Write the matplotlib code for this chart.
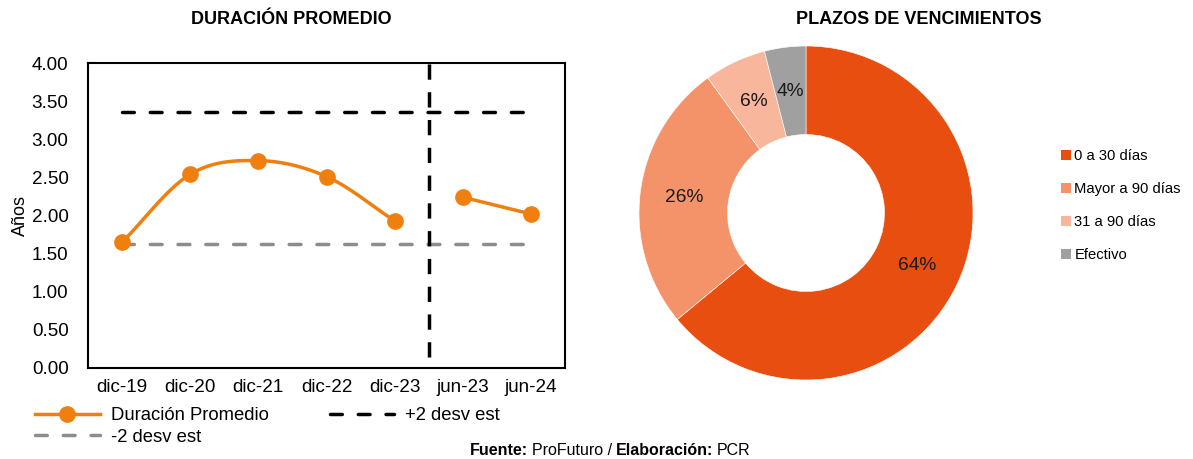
import numpy as np
import matplotlib
matplotlib.use("Agg")
import matplotlib.pyplot as plt
from matplotlib.lines import Line2D
from matplotlib.patches import Patch
from matplotlib.text import Annotation

plt.rcParams['font.family'] = ['Liberation Sans', 'DejaVu Sans']

# data
periods = ["dic-19", "dic-20", "dic-21", "dic-22", "dic-23", "jun-23", "jun-24"]
duracion = [1.65, 2.54, 2.72, 2.51, 1.93, 2.24, 2.02]
plus2_std = 3.36
minus2_std = 1.62

plazo_labels = ["0 a 30 días", "Mayor a 90 días", "31 a 90 días", "Efectivo"]
plazo_pct = [64, 26, 6, 4]

orange = "#EF7F0F"
pie_colors = ["#E84E0F", "#F4936A", "#F8B69C", "#A0A0A0"]


def catmull_rom(xs, ys, n=30):
    # smooth line through the points (Excel-like smoothing)
    xs = np.asarray(xs, float)
    ys = np.asarray(ys, float)
    px = np.concatenate([[2 * xs[0] - xs[1]], xs, [2 * xs[-1] - xs[-2]]])
    py = np.concatenate([[2 * ys[0] - ys[1]], ys, [2 * ys[-1] - ys[-2]]])
    outx, outy = [], []
    for i in range(1, len(px) - 2):
        t = np.linspace(0, 1, n)
        for p, out in ((px, outx), (py, outy)):
            p0, p1, p2, p3 = p[i - 1], p[i], p[i + 1], p[i + 2]
            out.extend(0.5 * (2 * p1 + (-p0 + p2) * t
                              + (2 * p0 - 5 * p1 + 4 * p2 - p3) * t ** 2
                              + (-p0 + 3 * p1 - 3 * p2 + p3) * t ** 3))
    return np.array(outx), np.array(outy)


fig = plt.figure(figsize=(11.93, 4.59), dpi=100)

# ---- left: duracion promedio
ax = fig.add_axes([88 / 1193, 91 / 459, 477 / 1193, 305 / 459])
x = np.arange(len(periods))
duracion = np.array(duracion)

lw_dash = 2.5
ax.plot([x[0], x[-1]], [plus2_std] * 2, color="black", lw=lw_dash,
        dashes=(3.4, 4.6), dash_capstyle="round", zorder=2)
ax.plot([x[0], x[-1]], [minus2_std] * 2, color="#8C8C8C", lw=lw_dash,
        dashes=(3.4, 4.6), dash_capstyle="round", zorder=2)
ax.plot([4.5, 4.5], [0.14, 4.0], color="black", lw=lw_dash,
        dashes=(4.4, 3.6), zorder=2)

for seg in (slice(0, 5), slice(5, 7)):
    sx, sy = catmull_rom(x[seg], duracion[seg])
    ax.plot(sx, sy, color=orange, lw=2.5, zorder=3)
    ax.plot(x[seg], duracion[seg], "o", color=orange, ms=11, zorder=4)

ax.set_xlim(-0.5, 6.5)
ax.set_ylim(0, 4)
yt = np.arange(0, 4.01, 0.5)
ax.set_yticks(yt)
ax.set_yticklabels([f"{v:.2f}" for v in yt])
ax.set_xticks(x)
ax.set_xticklabels(periods)
ax.tick_params(length=0, labelsize=13.6)
ax.tick_params(axis="y", pad=14)
ax.tick_params(axis="x", pad=8)
for s in ax.spines.values():
    s.set_linewidth(1.5)
ax.set_ylabel("Años", fontsize=13, labelpad=2)
fig.text(291 / 1193, 1 - 20 / 459, "DURACIÓN PROMEDIO", ha="center", va="center",
         fontsize=13, fontweight="bold")

handles = [
    Line2D([], [], color=orange, lw=2.5, marker="o", ms=11),
    Line2D([], [], color="#8C8C8C", lw=lw_dash, dashes=(3.4, 4.6), dash_capstyle="round"),
    Line2D([], [], color="black", lw=lw_dash, dashes=(3.4, 4.6), dash_capstyle="round"),
]
fig.legend(handles, ["Duración Promedio", "-2 desv est", "+2 desv est"], ncol=2,
           loc="upper left", bbox_to_anchor=(35 / 1193, 1 - 407 / 459),
           frameon=False, fontsize=13.3, handlelength=3.5, handletextpad=0.6,
           columnspacing=3.3, labelspacing=0.25, borderpad=0, borderaxespad=0)

# ---- right: plazos de vencimientos
pax = fig.add_axes([639 / 1193, 79 / 459, 334 / 1193, 334 / 459])
pax.pie(plazo_pct, colors=pie_colors, startangle=90, counterclock=False,
        autopct="%d%%", pctdistance=0.735,
        wedgeprops=dict(width=0.53, edgecolor="white", lw=0.4),
        textprops=dict(fontsize=13.8, color="#1a1a1a"))
pax.set_aspect("equal")
pax.set_xlim(-1, 1)
pax.set_ylim(-1, 1)
fig.text(919 / 1193, 1 - 20 / 459, "PLAZOS DE VENCIMIENTOS", ha="center", va="center",
         fontsize=13, fontweight="bold")

pie_handles = [Patch(facecolor=c, edgecolor="none") for c in pie_colors]
fig.legend(pie_handles, plazo_labels, loc="upper left",
           bbox_to_anchor=(1061 / 1193, 1 - 149 / 459), frameon=False,
           fontsize=10.6, handlelength=0.7, handleheight=0.7, handletextpad=0.2,
           labelspacing=1.3, borderpad=0, borderaxespad=0)

# ---- source note (mixed bold / regular)
parts = [("Fuente:", "bold"), ("ProFuturo /", "normal"),
         ("Elaboración:", "bold"), ("PCR", "normal")]
last = fig.text(470 / 1193, 1 - 458 / 459, parts[0][0], fontsize=11.5,
                fontweight=parts[0][1], va="bottom")
for txt, w in parts[1:]:
    last = fig.add_artist(Annotation(txt, xy=(1, 0), xycoords=last, xytext=(2.6, 0),
                                     textcoords="offset points", va="bottom",
                                     ha="left", fontsize=11.5, fontweight=w))

fig.savefig("out.png", dpi=100)
